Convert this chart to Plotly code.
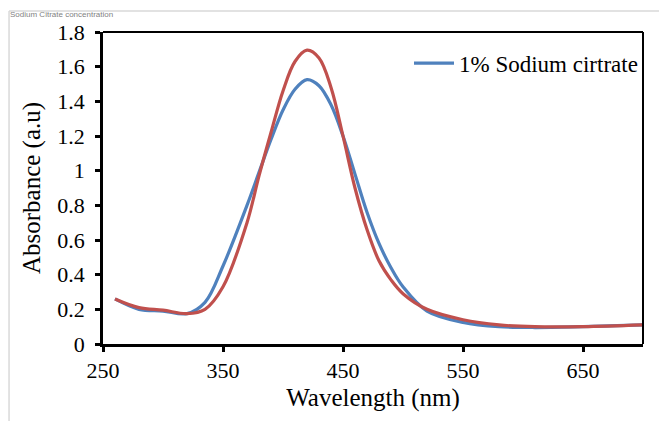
import plotly.graph_objects as go

wavelength = [260, 280, 300, 320, 335, 350, 370, 380, 390, 400, 410, 420, 430, 440, 450,
              460, 470, 480, 490, 500, 520, 550, 580, 610, 650, 700]
abs_blue = [0.26, 0.20, 0.19, 0.175, 0.24, 0.45, 0.80, 0.99, 1.18, 1.35, 1.47, 1.525, 1.49, 1.38, 1.20,
            0.98, 0.76, 0.58, 0.44, 0.33, 0.19, 0.125, 0.10, 0.095, 0.10, 0.11]
abs_red = [0.26, 0.21, 0.195, 0.175, 0.20, 0.33, 0.70, 0.97, 1.22, 1.46, 1.63, 1.695, 1.65, 1.48, 1.20,
           0.90, 0.66, 0.48, 0.37, 0.29, 0.20, 0.14, 0.11, 0.10, 0.10, 0.11]

x_ticks = [250, 350, 450, 550, 650]
y_ticks = [0, 0.2, 0.4, 0.6, 0.8, 1, 1.2, 1.4, 1.6, 1.8]
y_labels = ["0", "0.2", "0.4", "0.6", "0.8", "1", "1.2", "1.4", "1.6", "1.8"]

FONT = "Liberation Serif"

fig = go.Figure()
fig.add_trace(go.Scatter(x=wavelength, y=abs_blue, mode="lines", name="1% Sodium cirtrate",
                         line=dict(color="#4F81BD", width=3.2, shape="spline", smoothing=1.0)))
fig.add_trace(go.Scatter(x=wavelength, y=abs_red, mode="lines", name="red", showlegend=False,
                         line=dict(color="#C0504D", width=3.2, shape="spline", smoothing=1.0)))

axis_common = dict(showgrid=False, zeroline=False, showline=True, linecolor="black", linewidth=2.5,
                   ticks="outside", ticklen=5, tickwidth=2.5, tickcolor="black", automargin=False,
                   tickfont=dict(family=FONT, size=22, color="black"))

fig.update_xaxes(range=[250, 700], tickvals=x_ticks, ticktext=[str(v) for v in x_ticks],
                 title=dict(text="Wavelength (nm)", font=dict(family=FONT, size=25, color="black"), standoff=7),
                 **axis_common)
fig.update_yaxes(range=[0, 1.8], tickvals=y_ticks, ticktext=y_labels, ticklabelstandoff=6,
                 title=dict(text="Absorbance (a.u)", font=dict(family=FONT, size=25, color="black"), standoff=10),
                 **axis_common)

# plot box top/right borders
fig.add_shape(type="line", xref="paper", yref="paper", x0=0, x1=1, y0=1, y1=1,
              line=dict(color="black", width=2))
fig.add_shape(type="line", xref="paper", yref="paper", x0=1, x1=1, y0=0, y1=1,
              line=dict(color="black", width=2))
# outer light gray frame (chart area)
fig.add_shape(type="line", xref="paper", yref="paper", x0=-0.174, x1=1.1, y0=1.067, y1=1.067,
              line=dict(color="#D9D9D9", width=1.5))
fig.add_shape(type="line", xref="paper", yref="paper", x0=-0.174, x1=-0.174, y0=1.067, y1=-0.3,
              line=dict(color="#D9D9D9", width=1.5))

# heading above the chart (cut off in the source; shown small here)
fig.add_annotation(text="Sodium Citrate concentration", xref="paper", yref="paper",
                   x=-0.176, y=1.0769, xanchor="left", yanchor="top", showarrow=False,
                   font=dict(family="Liberation Sans", size=8, color="#7F7F7F"))

fig.update_layout(
    width=659, height=413,
    margin=dict(l=95, r=24, t=24, b=77, autoexpand=False),
    paper_bgcolor="white", plot_bgcolor="white",
    legend=dict(x=1, y=0.9, xanchor="right", yanchor="middle", bgcolor="rgba(0,0,0,0)",
                font=dict(family=FONT, size=23, color="black"), itemwidth=40),
    showlegend=True,
)

fig.write_html("out.html")
